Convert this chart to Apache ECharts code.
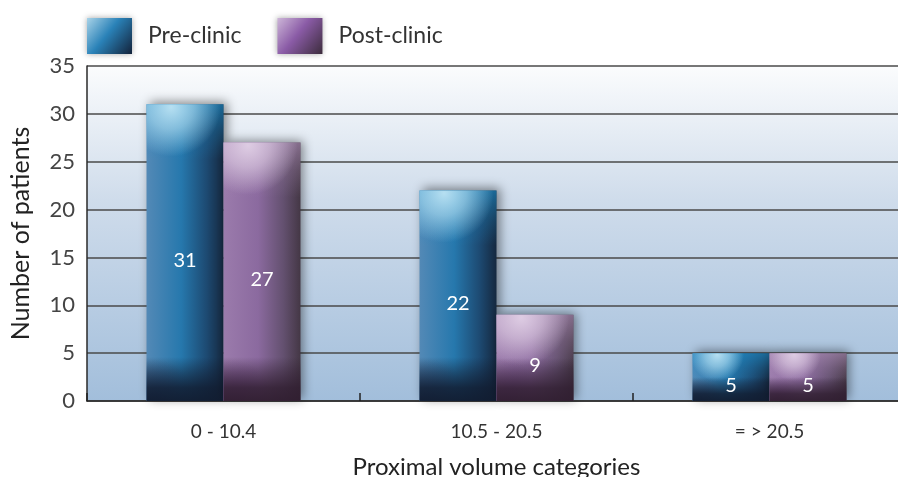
<!DOCTYPE html>
<html>
<head>
<meta charset="utf-8">
<title>Proximal volume categories</title>
<script src="https://cdn.jsdelivr.net/npm/echarts@6/dist/echarts.min.js"></script>
<style>
  html, body { margin: 0; padding: 0; background: #ffffff; }
  #chart { width: 898px; height: 477px; }
</style>
</head>
<body>
<div id="chart"></div>
<script>
// Patients per proximal volume category, before and after the clinic
const categories = ['0 - 10.4', '10.5 - 20.5', '= > 20.5'];
const preClinic = [31, 22, 5];
const postClinic = [27, 9, 5];
const seriesNames = ['Pre-clinic', 'Post-clinic'];
const yMin = 0;
const yMax = 35;
const yStep = 5;

const FONT = 'Lato, "Open Sans", sans-serif';
const LG = echarts.graphic.LinearGradient;
const RG = echarts.graphic.RadialGradient;

// Glossy palette for each series
const palettes = [
  {
    body: [[0, '#5389b6'], [0.45, '#2678ad'], [0.78, '#1d4a72'], [1, '#15283f']],
    glow: 'rgba(190,228,244,', glowEdge: 'rgba(30,145,205,',
    shade: 'rgba(17,28,48,', shadeTint: 'rgba(40,70,120,',
    legend: [[0, '#a9d3e8'], [0.45, '#2a82b8'], [1, '#13223a']]
  },
  {
    body: [[0, '#9b7bac'], [0.45, '#8b6a9f'], [0.78, '#63506f'], [1, '#443745']],
    glow: 'rgba(225,208,230,', glowEdge: 'rgba(175,145,185,',
    shade: 'rgba(48,30,48,', shadeTint: 'rgba(110,60,140,',
    legend: [[0, '#cdb6d8'], [0.45, '#8a5ba6'], [1, '#3c2c3c']]
  }
];

function renderBar(params, api) {
  const s = params.seriesIndex;
  const pal = palettes[s];
  const cat = api.value(0);
  const val = api.value(1);
  const base = api.coord([cat, 0]);
  const top = api.coord([cat, val]);
  const band = api.size([1, 0])[0];
  const w = band * 0.282;
  const x = s === 0 ? base[0] - w : base[0];
  const y = top[1];
  const h = base[1] - top[1];
  const topH = Math.min(55, h * 0.62);
  const botH = Math.min(44, h * 0.5);

  return {
    type: 'group',
    children: [
      {
        type: 'rect',
        shape: { x: x, y: y, width: w, height: h },
        style: {
          fill: new LG(0, 0, 1, 0, pal.body.map(c => ({ offset: c[0], color: c[1] }))),
          shadowBlur: 10, shadowColor: 'rgba(0,0,0,0.45)', shadowOffsetX: 3, shadowOffsetY: -2
        }
      },
      {
        type: 'rect',
        shape: { x: x, y: y, width: w, height: topH },
        style: {
          fill: new LG(0, 0, 0, 1, [
            { offset: 0, color: pal.glowEdge + '0.6)' },
            { offset: 0.5, color: pal.glowEdge + '0.25)' },
            { offset: 1, color: pal.glowEdge + '0)' }
          ])
        }
      },
      {
        type: 'rect',
        shape: { x: x, y: y, width: w, height: topH },
        style: {
          fill: new RG(0.32, 0.05, 0.9, [
            { offset: 0, color: pal.glow + '0.95)' },
            { offset: 0.45, color: pal.glow + '0.6)' },
            { offset: 1, color: pal.glow + '0)' }
          ])
        }
      },
      {
        type: 'rect',
        shape: { x: x, y: base[1] - botH, width: w, height: botH },
        style: {
          fill: new RG(0.1, 1, 0.95, [
            { offset: 0, color: pal.shadeTint + '0.7)' },
            { offset: 1, color: pal.shadeTint + '0)' }
          ])
        }
      },
      {
        type: 'rect',
        shape: { x: x, y: base[1] - botH, width: w, height: botH },
        style: {
          fill: new LG(0, 0, 0, 1, [
            { offset: 0, color: pal.shade + '0)' },
            { offset: 0.35, color: pal.shade + '0.45)' },
            { offset: 0.7, color: pal.shade + '0.85)' },
            { offset: 1, color: pal.shade + '0.95)' }
          ])
        }
      },
      {
        type: 'text',
        style: {
          text: String(val),
          x: x + w / 2,
          y: y + h / 2 + 8,
          fill: '#ffffff',
          fontSize: 20,
          fontFamily: FONT,
          textAlign: 'center',
          textVerticalAlign: 'middle'
        }
      }
    ]
  };
}

const chart = echarts.init(document.getElementById('chart'), null, { renderer: 'canvas' });

chart.setOption({
  animation: false,
  backgroundColor: '#ffffff',
  textStyle: { fontFamily: FONT },
  legend: {
    left: 87,
    top: 18,
    padding: 0,
    itemWidth: 45,
    itemHeight: 36,
    itemGap: 36,
    icon: 'rect',
    textStyle: { fontSize: 23, color: '#333333', padding: [0, 0, 0, 11], fontFamily: FONT },
    data: seriesNames.map((n, i) => ({
      name: n,
      itemStyle: {
        color: new LG(0, 0, 1, 1, palettes[i].legend.map(c => ({ offset: c[0], color: c[1] }))),
        shadowBlur: 6, shadowColor: 'rgba(0,0,0,0.35)'
      }
    }))
  },
  grid: {
    left: 87,
    top: 66,
    right: -8,
    bottom: 76,
    outerBoundsMode: 'none',
    containLabel: false,
    show: true,
    borderWidth: 0,
    backgroundColor: new LG(0, 0, 0, 1, [
      { offset: 0, color: '#fbfcfd' },
      { offset: 0.4, color: '#cfdceb' },
      { offset: 1, color: '#a2bedb' }
    ])
  },
  xAxis: {
    type: 'category',
    data: categories,
    name: 'Proximal volume categories',
    nameLocation: 'middle',
    nameGap: 54,
    nameTextStyle: { fontSize: 24, color: '#222222', fontFamily: FONT },
    axisLine: { lineStyle: { color: '#2a2a2a', width: 1.5 } },
    axisTick: { show: true, inside: true, length: 8, lineStyle: { color: '#222222', width: 1.5 } },
    axisLabel: { fontSize: 19, color: '#333333', margin: 21, fontFamily: FONT },
    splitLine: { show: false }
  },
  yAxis: {
    type: 'value',
    min: yMin,
    max: yMax,
    interval: yStep,
    name: 'Number of patients',
    nameLocation: 'middle',
    nameGap: 54,
    nameTextStyle: { fontSize: 25, color: '#222222', fontFamily: FONT },
    axisLine: { show: true, lineStyle: { color: '#2a2a2a', width: 1.5 } },
    axisTick: { show: false },
    axisLabel: { fontSize: 22, color: '#444444', margin: 12, padding: [8, 0, 0, 0], fontFamily: FONT },
    splitLine: { show: true, lineStyle: { color: '#4a4a4a', width: 1.5 } }
  },
  series: [preClinic, postClinic].map((vals, i) => ({
    name: seriesNames[i],
    type: 'custom',
    renderItem: renderBar,
    encode: { x: 0, y: 1 },
    itemStyle: { color: palettes[i].legend[1][1] },
    data: vals.map((v, k) => [k, v]),
    z: 3
  }))
});
</script>
</body>
</html>
